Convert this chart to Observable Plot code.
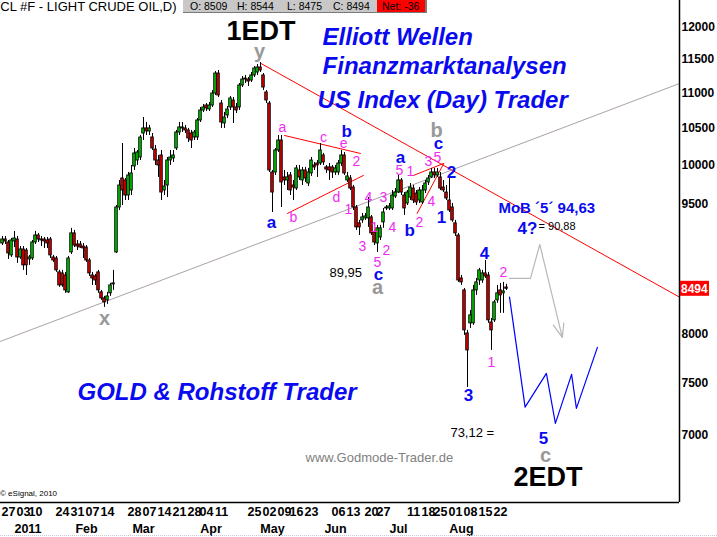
<!DOCTYPE html>
<html><head><meta charset="utf-8">
<script src="https://cdn.jsdelivr.net/npm/d3@7"></script>
<script src="https://cdn.jsdelivr.net/npm/@observablehq/plot@0.6"></script>
<style>
body{margin:0;background:#fff;}
#wrap{position:relative;width:717px;height:537px;overflow:hidden;font-family:"Liberation Sans",Arial,sans-serif;}
#wrap svg{position:absolute;left:0;top:0;}
.abs{position:absolute;white-space:nowrap;}
</style></head><body>
<div id="wrap"></div>
<script>
// ---- daily candles (CL #F, price in cents), bar index = position ----
const open = [9018,9066,9030,8877,9042,9066,8853,8947,8935,8830,
 8841,9030,9114,9054,9066,9054,9066,8853,8841,8680,
 8668,8645,8454,8912,9139,9006,9006,8982,8970,8818,
 8645,8634,8680,8454,8387,8365,8443,8543,8912,9457,
 9827,9801,9608,9672,9984,10063,10103,10428,10498,10456,
 10374,10210,10063,10130,9672,9736,10063,10090,10224,10442,
 10498,10498,10470,10428,10374,10374,10609,10750,10821,10764,
 10821,10994,11288,10850,10567,10679,10793,10893,10793,10793,
 11111,11214,11199,11184,11259,11303,11378,11259,11009,10850,
 9905,9905,10197,10332,9840,9801,9866,9736,9697,9931,
 9801,9931,9762,9892,9997,10023,10023,10130,9971,9971,
 9971,9905,9905,10023,10130,9801,9827,9710,9457,9261,
 9297,9322,9322,9334,9151,9018,9090,9273,9445,9445,
 9445,9595,9646,9801,9608,9507,9582,9697,9633,9545,
 9520,9672,9775,9840,9905,9866,9840,9710,9646,9545,
 9457,9261,9114,8611,8476,8008,8115,8115,8476,8588,
 8588,8668,8645,8125,8147,8365,8476,8443,8509];
const high = [9102,9102,9054,9078,9163,9102,8982,8982,8959,8877,
 9054,9163,9139,9102,9090,9090,9090,8877,8865,8703,
 8703,8680,8865,9200,9175,9054,9042,9018,8994,8841,
 8680,8657,8703,8476,8409,8454,8555,8703,9482,9801,
 10291,9827,9905,9997,10224,10197,10401,10651,10581,10540,
 10428,10264,10130,10197,9801,10103,10197,10197,10470,10581,
 10581,10540,10498,10470,10470,10637,10793,10836,10850,10864,
 11038,11318,11333,10893,10722,10807,10951,10936,10850,11140,
 11244,11259,11229,11303,11393,11423,11453,11288,11038,10879,
 9931,10224,10401,10401,9931,9905,9905,9801,9997,9997,
 9971,9971,9958,10103,10037,10063,10291,10157,9997,10023,
 9997,9997,10063,10197,10170,9905,9866,9736,9482,9297,
 9383,9383,9582,9358,9175,9236,9236,9445,9482,9507,
 9672,9697,9866,9827,9646,9672,9762,9736,9672,9710,
 9736,9801,9866,9958,9958,9958,9905,9801,9736,9827,
 9507,9297,9139,8645,8498,8040,8255,8532,8611,8726,
 8703,8818,8680,8168,8365,8532,8555,8566,8544];
const low = [8994,9006,8830,8853,8970,8784,8830,8703,8645,8761,
 8818,9006,9030,8982,8959,8959,8841,8795,8680,8510,
 8510,8443,8443,8888,8970,8935,8959,8841,8795,8634,
 8532,8532,8443,8365,8288,8321,8409,8476,8900,9420,
 9482,9545,9545,9608,9931,9997,10063,10332,10401,10401,
 10197,9997,9840,9545,9608,9582,9997,10037,10197,10401,
 10442,10428,10305,10224,10332,10332,10581,10722,10736,10736,
 10793,10965,10936,10498,10498,10637,10750,10567,10708,10750,
 11081,11140,11096,11155,11229,11259,11303,11038,10850,9905,
 9395,9866,10170,9457,9736,9672,9608,9545,9672,9801,
 9736,9775,9723,9853,9931,9840,9997,9997,9892,9801,
 9827,9866,9866,9984,9866,9775,9672,9420,9175,9114,
 9261,9297,9212,9114,8994,8912,9054,9200,9420,9420,
 9420,9570,9633,9608,9358,9482,9545,9507,9482,9507,
 9495,9633,9736,9827,9827,9840,9672,9646,9545,9395,
 9273,9102,8566,8532,7987,7456,8061,8093,8420,8532,
 8555,8611,8115,7830,8125,8332,8223,8223,8475];
const close = [9066,9042,8900,9054,9078,8853,8947,8761,8761,8853,
 9030,9114,9066,9066,9042,9018,8877,8818,8703,8532,
 8532,8476,8841,9139,8994,8982,8970,8959,8818,8668,
 8611,8588,8476,8387,8343,8409,8532,8555,9457,9736,
 9672,9608,9866,9892,10157,10170,10373,10498,10456,10498,
 10224,10063,9997,9646,9723,10063,10103,10130,10442,10512,
 10512,10470,10360,10332,10442,10609,10750,10793,10779,10821,
 10994,11288,10965,10581,10651,10764,10922,10793,10750,11111,
 11199,11199,11169,11259,11363,11378,11333,11081,10893,9931,
 9646,10197,10332,9775,9801,9840,9672,9710,9958,9840,
 9931,9827,9905,10063,9971,9997,10197,10037,9944,9931,
 9905,9958,10023,10130,9892,9853,9697,9457,9212,9212,
 9334,9346,9457,9139,9030,9200,9200,9395,9457,9470,
 9608,9646,9801,9646,9445,9646,9710,9545,9520,9672,
 9672,9762,9827,9905,9866,9905,9697,9672,9570,9420,
 9297,9139,8588,8566,8040,7830,8201,8476,8566,8703,
 8668,8634,8147,8040,8343,8443,8420,8465,8494];
const netChange = -36;

// ---- axis ticks ----
const yTicks = [7000, 7500, 8000, 9000, 9500, 10000, 10500, 11000, 11500, 12000];
const weekTickBar = [2,7,11,20,25,30,35,44,49,54,59,64,68,73,84,89,94,98,103,112,117,123,127,137,142,146,151,156,161,166];
const weekTickLabel = ["27","03","10","24","31","07","14","28","07","14","21","28","04","11","25","02","09","16","23","06","13","20","27","11","18","25","01","08","15","22"];
const monthTickBar = [8.5,28,47,69.5,90,111,132,153];
const monthTickLabel = ["2011","Feb","Mar","Apr","May","Jun","Jul","Aug"];

// ---- drawn lines: [bar, price] ----
const supportLine = [[-0.67, 7924], [225.67, 11140]];
const resistLine = [[86, 11443], [225.67, 8401]];
const triangleLines = [
  [[94, 10401], [119.3, 10157]],
  [[95, 9383], [120.3, 9866]],
  [[137, 9866], [147, 10023]],
  [[138.2, 9383], [147.1, 10023]]
];
const grayForecast = [[169, 8611], [176, 8611], [179.1, 9006], [186.6, 7966]];
const grayArrowHead = [[183.6, 8097], [186.6, 7966], [187.1, 8118]];
const blueForecast = [[169, 8401], [174.2, 7265], [181.3, 7596], [184.3, 7111], [189.7, 7586], [191.3, 7253], [198.3, 7862]];

// ---- wave labels: [text, bar, price, kind] ----
const waveLabels = [
 ["y", 85.7, 11621, "gray"], ["x", 34, 8168, "gray"], ["a", 125, 8510, "gray"],
 ["b", 144.7, 10470, "gray"], ["c", 181, 6816, "gray"],
 ["a", 89.7, 9273, "major"], ["b", 114.7, 10456, "major"], ["c", 125.3, 8657, "major"],
 ["a", 132.7, 10103, "major"], ["b", 135.7, 9175, "major"], ["c", 145.3, 10291, "major"],
 ["1", 146.3, 9334, "major"], ["2", 149.7, 9905, "major"], ["3", 155.3, 7378, "major"],
 ["4", 160.7, 8900, "major"], ["5", 180.3, 6970, "major"], ["4?", 175, 9200, "major"],
 ["a", 93.3, 10512, "minor"], ["b", 97, 9334, "minor"], ["c", 107, 10374, "minor"],
 ["d", 111.3, 9582, "minor"], ["e", 113.7, 10291, "minor"], ["2", 118, 10050, "minor"],
 ["1", 115.3, 9432, "minor"], ["3", 120, 8982, "minor"], ["4", 122, 9582, "minor"],
 ["1", 124, 9212, "minor"], ["5", 125, 8795, "minor"], ["3", 127, 9582, "minor"],
 ["2", 128, 8935, "minor"], ["4", 130, 9212, "minor"], ["5", 132.3, 9931, "minor"],
 ["1", 136, 9918, "minor"], ["2", 139, 9273, "minor"], ["3", 142, 10050, "minor"],
 ["4", 143, 9532, "minor"], ["5", 145, 10103, "minor"], ["1", 163, 7708, "minor"],
 ["2", 167, 8680, "minor"]
];
const edtLabels = [["1EDT", 86.2, 11932], ["2EDT", 181.8, 6621]];
const valueNotes = [["89,95", 109, 8680], ["73,12 =", 149.3, 7026]];
const smallNotes = [["= 90,88", 178.7, 9224]];
const mobNotes = [["MoB \u00b45\u00b4 94,63", 165.3, 9445]];
const brandNotes = [["Elliott Wellen", 106.7, 11838], ["Finanzmarktanalysen", 106.7, 11394],
 ["US Index (Day) Trader", 105, 10893], ["GOLD & Rohstoff Trader", 25, 7412]];
const urlNotes = [["www.Godmode-Trader.de", 101, 6798]];

const bars = close.map((c, i) => ({i, o: open[i], h: high[i], l: low[i], c}));
const toPts = arr => arr.map(([b, p]) => ({b, p}));
const FONT = "Liberation Sans, Arial, sans-serif";
const GREEN = "#00c800", RED = "#e00000", BLUE = "#0a0af0", MAG = "#f02cf0", GRAY = "#999999";
const xDom = [-2/3, 677/3], yDom = [6405, 12431];
const wm = new Map(weekTickBar.map((b, i) => [b, weekTickLabel[i]]));
const mm = new Map(monthTickBar.map((b, i) => [b, monthTickLabel[i]]));
const txt = (data, o) => Plot.text(data, {x: d => d[1], y: d => d[2], text: d => d[0], lineAnchor: "middle", fontFamily: FONT, ...o});

const chart = Plot.plot({
  width: 717, height: 537,
  marginLeft: 0, marginRight: 38, marginTop: 0, marginBottom: 35,
  style: {fontFamily: FONT, background: "transparent", overflow: "visible"},
  x: {type: "linear", domain: xDom, axis: null},
  y: {type: "log", domain: yDom, axis: null},
  marks: [
    Plot.line(toPts(supportLine), {x: "b", y: "p", stroke: "#aaa0aa", strokeWidth: 1}),
    Plot.line(toPts(resistLine), {x: "b", y: "p", stroke: "#ff0000", strokeWidth: 1}),
    ...triangleLines.map(l => Plot.line(toPts(l), {x: "b", y: "p", stroke: "#ff0000", strokeWidth: 1})),
    Plot.ruleX(bars, {x: "i", y1: "l", y2: "h", stroke: "#000", strokeWidth: 1}),
    Plot.rect(bars, {x1: d => d.i - 0.42, x2: d => d.i + 0.42,
      y1: d => Math.min(d.o, d.c), y2: d => Math.max(d.o, d.c),
      fill: d => d.c >= d.o ? GREEN : RED, stroke: "#000", strokeWidth: 0.9}),
    Plot.line(toPts(grayForecast), {x: "b", y: "p", stroke: "#b8b8b8", strokeWidth: 1.2}),
    Plot.line(toPts(grayArrowHead), {x: "b", y: "p", stroke: "#b8b8b8", strokeWidth: 1.2}),
    Plot.line(toPts(blueForecast), {x: "b", y: "p", stroke: "#0000ff", strokeWidth: 1.2}),
    Plot.ruleX([xDom[1]], {stroke: "#000", strokeWidth: 1.5}),
    Plot.ruleY([yDom[0]], {stroke: "#000", strokeWidth: 1.5}),
    Plot.axisY({anchor: "right", ticks: yTicks, tickSize: 0, tickPadding: 2, tickFormat: d => String(d),
      fontSize: 12, fontWeight: "bold", fill: "#000", label: null}),
    Plot.axisX({anchor: "bottom", ticks: weekTickBar, tickSize: 0, tickPadding: 5, tickFormat: d => wm.get(d),
      fontSize: 12.5, fontWeight: "bold", fill: "#000", label: null}),
    Plot.axisX({anchor: "bottom", ticks: monthTickBar, tickSize: 0, tickPadding: 21.5, tickFormat: d => mm.get(d),
      fontSize: 12.5, fontWeight: "bold", fill: "#000", label: null}),
    txt(waveLabels.filter(d => d[3] === "gray"), {fill: GRAY, fontSize: 20, fontWeight: "bold"}),
    txt(waveLabels.filter(d => d[3] === "major"), {fill: BLUE, fontSize: 17, fontWeight: "bold"}),
    txt(waveLabels.filter(d => d[3] === "minor"), {fill: MAG, fontSize: 14}),
    txt(edtLabels, {fill: "#000", fontSize: 27, fontWeight: "bold"}),
    txt(valueNotes, {fill: "#000", fontSize: 13, textAnchor: "start"}),
    txt(smallNotes, {fill: "#000", fontSize: 11, textAnchor: "start"}),
    txt(mobNotes, {fill: BLUE, fontSize: 15, fontWeight: "bold", textAnchor: "start"}),
    txt(brandNotes, {fill: BLUE, fontSize: 24, fontWeight: "bold", fontStyle: "italic", textAnchor: "start"}),
    txt(urlNotes, {fill: "#808080", fontSize: 13, textAnchor: "start"})
  ]
});

const wrap = document.getElementById("wrap");
wrap.appendChild(chart);

// last-price marker on the right axis, placed with the chart's own scales
const ys = chart.scale("y"), xs = chart.scale("x");
const last = close[close.length - 1];
const py = ys.apply(last), px = xs.apply(xDom[1]);
const g = d3.select(chart).append("g");
g.append("rect").attr("x", px + 1).attr("y", py - 7.5).attr("width", 29).attr("height", 15).attr("fill", "#ff0000");
g.append("text").attr("x", px + 2).attr("y", py).attr("dy", "0.35em").attr("fill", "#fff")
  .attr("text-anchor", "start")
  .attr("font-family", FONT).attr("font-size", 12).attr("font-weight", "bold").text(String(last));

// header bar
const hdr = document.createElement("div");
hdr.innerHTML = `
<div class="abs" style="left:-4px;top:-1px;font-size:13px;color:#000;">(CL #F - LIGHT CRUDE OIL,D)</div>
<div class="abs" style="left:183px;top:0;width:242px;height:12px;background:#c8c8c8;border-right:2px solid #7a7a7a;border-bottom:1px solid #7a7a7a;font-size:10.5px;color:#000;">
  <span class="abs" style="left:7px;top:0;">O: ${open[open.length-1]}</span>
  <span class="abs" style="left:54px;top:0;">H: ${high[high.length-1]}</span>
  <span class="abs" style="left:104px;top:0;">L: ${low[low.length-1]}</span>
  <span class="abs" style="left:150px;top:0;">C: ${last}</span>
  <span class="abs" style="left:194px;top:0;width:48px;height:12px;background:#ff0000;"><span style="padding-left:5px">Net: ${netChange}</span></span>
</div>
<div class="abs" style="left:0;top:489px;font-size:8px;color:#000;">\u00a9 eSignal, 2010</div>
<div class="abs" style="left:0;top:535px;width:717px;border-top:1px dotted #c8c8d8;"></div>`;
wrap.appendChild(hdr);
</script>
</body></html>
